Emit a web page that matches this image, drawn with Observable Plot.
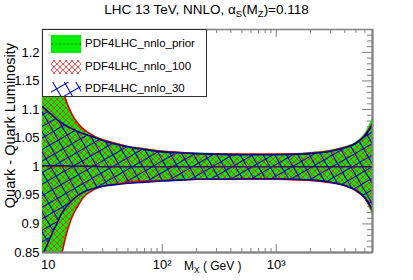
<!DOCTYPE html>
<html><head><meta charset="utf-8">
<script src="https://cdn.jsdelivr.net/npm/d3@7"></script>
<script src="https://cdn.jsdelivr.net/npm/@observablehq/plot@0.6"></script>
<style>
body{margin:0;background:#fff;}
#wrap{position:relative;width:413px;height:280px;font-family:"Liberation Sans",Arial,Helvetica,sans-serif;color:#000;overflow:hidden;}
#wrap svg.plot{position:absolute;left:0;top:0;}
.title{position:absolute;left:0;width:413px;top:2px;text-align:center;font-size:13.5px;white-space:nowrap;}
.xlab{position:absolute;left:184px;top:259px;font-size:12px;white-space:nowrap;}
.ylab{position:absolute;left:10px;top:43px;font-size:14.5px;line-height:1;white-space:nowrap;transform-origin:0 0;transform:rotate(-90deg) translate(-100%,-50%);}
sub{font-size:70%;vertical-align:-3px;line-height:0;}
.legend{position:absolute;left:42px;top:29px;width:165px;height:68px;border:1px solid #333;background:#fff;box-sizing:border-box;}
.row{position:absolute;left:0;height:20px;width:160px;}
.row svg{position:absolute;left:8px;top:1px;}
.row span{position:absolute;left:42px;top:3px;font-size:11.5px;white-space:nowrap;}
</style></head>
<body>
<div id="wrap"></div>
<script>
// ---- data ----
const mx = [8.9, 10, 11, 12, 13, 14, 16, 18, 20, 25, 30, 40, 50, 70, 100, 150, 200, 300, 500, 700, 1000, 1500, 2000, 3000, 4000, 5000, 6000, 7000];
const priorUp = [1.40, 1.31, 1.24, 1.185, 1.15, 1.125, 1.095, 1.079, 1.069, 1.055, 1.048, 1.041, 1.036, 1.032, 1.028, 1.025, 1.024, 1.023, 1.022, 1.022, 1.022, 1.023, 1.025, 1.029, 1.035, 1.043, 1.058, 1.085];
const priorLo = [0.55, 0.64, 0.71, 0.77, 0.835, 0.868, 0.908, 0.928, 0.943, 0.959, 0.965, 0.970, 0.973, 0.975, 0.976, 0.977, 0.978, 0.978, 0.978, 0.978, 0.978, 0.977, 0.976, 0.972, 0.966, 0.957, 0.943, 0.915];
const priorMid = [1.0, 1.0, 1.0, 1.0, 1.0, 1.0, 1.0, 1.0, 1.0, 1.0, 1.0, 1.0, 1.0, 1.0, 1.0, 1.0, 1.0, 1.0, 1.0, 1.0, 1.0, 1.0, 1.0, 1.0, 1.0, 1.0, 1.0, 1.0];
const mc100Up = [1.39, 1.30, 1.235, 1.18, 1.146, 1.122, 1.093, 1.077, 1.067, 1.054, 1.047, 1.040, 1.035, 1.031, 1.027, 1.025, 1.023, 1.022, 1.022, 1.022, 1.022, 1.022, 1.024, 1.028, 1.034, 1.041, 1.055, 1.076];
const mc100Lo = [0.56, 0.65, 0.72, 0.78, 0.84, 0.872, 0.91, 0.930, 0.945, 0.960, 0.966, 0.970, 0.973, 0.975, 0.976, 0.977, 0.978, 0.978, 0.978, 0.978, 0.978, 0.977, 0.976, 0.972, 0.967, 0.958, 0.945, 0.922];
const mc100Mid = [1.001, 1.001, 1.001, 1.001, 1.001, 1.001, 1.001, 1.001, 1.001, 1.0, 1.0, 1.0, 1.0, 1.0, 1.0, 1.0, 1.0, 1.0, 1.0, 1.0, 1.0, 1.0, 1.0, 1.0, 1.0, 1.0, 1.0, 1.0];
const mc30Up = [1.105, 1.096, 1.089, 1.082, 1.077, 1.073, 1.067, 1.062, 1.058, 1.052, 1.046, 1.039, 1.035, 1.030, 1.026, 1.024, 1.023, 1.022, 1.021, 1.021, 1.021, 1.022, 1.023, 1.027, 1.033, 1.041, 1.054, 1.073];
const mc30Lo = [0.845, 0.868, 0.887, 0.902, 0.917, 0.927, 0.940, 0.949, 0.955, 0.962, 0.966, 0.969, 0.971, 0.973, 0.975, 0.977, 0.978, 0.978, 0.979, 0.979, 0.979, 0.978, 0.977, 0.973, 0.967, 0.959, 0.946, 0.925];
const mc30Mid = [1.002, 1.002, 1.002, 1.002, 1.002, 1.002, 1.001, 1.001, 1.001, 1.001, 1.0, 1.0, 1.0, 1.0, 1.0, 1.0, 1.0, 1.0, 1.0, 1.0, 1.0, 1.0, 1.0, 1.0, 1.0, 1.0, 1.0, 1.0];

const xMajor = [10, 100, 1000];
const xMajorLabels = ["10", "10\u00b2", "10\u00b3"];
const xMinor = [20, 30, 40, 50, 60, 70, 80, 90, 200, 300, 400, 500, 600, 700, 800, 900, 2000, 3000, 4000, 5000, 6000];
const yMajor = [0.85, 0.9, 0.95, 1, 1.05, 1.1, 1.15, 1.2];
const yMajorLabels = ["0.85", "0.9", "0.95", "1", "1.05", "1.1", "1.15", "1.2"];
const yMinor = [0.86,0.87,0.88,0.89,0.91,0.92,0.93,0.94,0.96,0.97,0.98,0.99,1.01,1.02,1.03,1.04,1.06,1.07,1.08,1.09,1.11,1.12,1.13,1.14,1.16,1.17,1.18,1.19,1.21,1.22,1.23];

const titleHTML = "LHC 13 TeV, NNLO, \u03b1<sub>S</sub>(M<sub>Z</sub>)=0.118";
const xLabelHTML = "M<sub>X</sub> ( GeV )";
const yLabel = "Quark - Quark Luminosity";
const legendLabels = ["PDF4LHC_nnlo_prior", "PDF4LHC_nnlo_100", "PDF4LHC_nnlo_30"];

// ---- build tables ----
const rows = (up, lo, mid) => mx.map((m, i) => ({m, up: up[i], lo: lo[i], mid: mid[i]}));
const prior = rows(priorUp, priorLo, priorMid);
const r100 = rows(mc100Up, mc100Lo, mc100Mid);
const r30 = rows(mc30Up, mc30Lo, mc30Mid);

const W = 413, H = 280, mL = 42, mR = 41, mT = 29, mB = 28;
const fw = W - mL - mR, fh = H - mT - mB;
const curve = "monotone-x";
const axisCol = "#808080";

const chart = Plot.plot({
  width: W, height: H,
  marginLeft: mL, marginRight: mR, marginTop: mT, marginBottom: mB,
  style: {fontFamily: "Liberation Sans, Arial, sans-serif", background: "transparent", overflow: "visible"},
  x: {type: "log", domain: [8.9, 7000], axis: null},
  y: {domain: [0.85, 1.24], axis: null},
  marks: [
    Plot.tickX(xMajor, {x: d => d, stroke: axisCol, strokeWidth: 1, insetTop: fh - 8}),
    Plot.tickX(xMinor, {x: d => d, stroke: axisCol, strokeWidth: 1, insetTop: fh - 4}),
    Plot.tickX(xMajor, {x: d => d, stroke: axisCol, strokeWidth: 1, insetBottom: fh - 8}),
    Plot.tickX(xMinor, {x: d => d, stroke: axisCol, strokeWidth: 1, insetBottom: fh - 4}),
    Plot.tickY(yMajor, {y: d => d, stroke: axisCol, strokeWidth: 1, insetLeft: fw - 10}),
    Plot.tickY(yMinor, {y: d => d, stroke: axisCol, strokeWidth: 1, insetLeft: fw - 5}),
    Plot.frame({stroke: axisCol, strokeWidth: 1.5}),
    Plot.areaY(prior, {x: "m", y1: "lo", y2: "up", fill: "#00ee00", curve, clip: true}),
    Plot.areaY(r100, {x: "m", y1: "lo", y2: "up", fill: "url(#hatchRed)", curve, clip: true}),
    Plot.areaY(r30, {x: "m", y1: "lo", y2: "up", fill: "url(#hatchBlue)", curve, clip: true}),
    Plot.line(prior, {x: "m", y: "mid", stroke: "#007700", strokeWidth: 1.2, strokeDasharray: "2,2", curve, clip: true}),
    Plot.line(r100, {x: "m", y: "up", stroke: "#dd0000", strokeWidth: 1.6, curve, clip: true}),
    Plot.line(r100, {x: "m", y: "lo", stroke: "#dd0000", strokeWidth: 1.6, curve, clip: true}),
    Plot.line(r100, {x: "m", y: "mid", stroke: "#dd0000", strokeWidth: 1, curve, clip: true}),
    Plot.line(r30, {x: "m", y: "up", stroke: "#000099", strokeWidth: 1.6, curve, clip: true}),
    Plot.line(r30, {x: "m", y: "lo", stroke: "#000099", strokeWidth: 1.6, curve, clip: true}),
    Plot.line(r30, {x: "m", y: "mid", stroke: "#000099", strokeWidth: 1.2, curve, clip: true}),
    Plot.ruleY([0.85], {stroke: axisCol, strokeWidth: 2}),
    Plot.ruleX([7000], {stroke: axisCol, strokeWidth: 2}),
    Plot.text(xMajor, {x: d => d, text: (d, i) => xMajorLabels[i], frameAnchor: "bottom", dy: 16, fontSize: 13, fill: "#000"}),
    Plot.text(yMajor, {y: d => d, text: (d, i) => yMajorLabels[i], frameAnchor: "left", dx: -3, textAnchor: "end", fontSize: 13, fill: "#000"})
  ]
});
chart.classList.add("plot");

// hatch patterns
const defs = d3.select(chart).insert("defs", ":first-child");
const pr = defs.append("pattern").attr("id", "hatchRed").attr("patternUnits", "userSpaceOnUse")
  .attr("width", 6).attr("height", 6);
pr.append("path").attr("d", "M0,0L6,6M6,0L0,6M-1,5L1,7M5,-1L7,1").attr("stroke", "#ff2020").attr("stroke-width", 0.8).attr("fill", "none");
const pb = defs.append("pattern").attr("id", "hatchBlue").attr("patternUnits", "userSpaceOnUse")
  .attr("width", 10).attr("height", 10).attr("patternTransform", "rotate(-30)");
pb.append("path").attr("d", "M0,0.5H10M0.5,0V10").attr("stroke", "#0000cc").attr("stroke-width", 1.1).attr("fill", "none");

const wrap = document.getElementById("wrap");
wrap.appendChild(chart);

const t = document.createElement("div"); t.className = "title"; t.innerHTML = titleHTML; wrap.appendChild(t);
const xl = document.createElement("div"); xl.className = "xlab"; xl.innerHTML = xLabelHTML; wrap.appendChild(xl);
const yl = document.createElement("div"); yl.className = "ylab"; yl.textContent = yLabel; wrap.appendChild(yl);

// legend
const leg = document.createElement("div"); leg.className = "legend"; wrap.appendChild(leg);
const swatches = [
  '<svg width="30" height="18"><rect x="0" y="0" width="30" height="18" fill="#00ee00"/><line x1="0" y1="9" x2="30" y2="9" stroke="#007700" stroke-dasharray="2,2"/></svg>',
  '<svg width="30" height="18"><rect x="0" y="2" width="30" height="14" fill="url(#hatchRed)"/></svg>',
  '<svg width="30" height="18"><rect x="0" y="2" width="30" height="14" fill="url(#hatchBlue)"/></svg>'
];
legendLabels.forEach((lab, i) => {
  const r = document.createElement("div"); r.className = "row"; r.style.top = (4 + i * 22.5) + "px";
  r.innerHTML = swatches[i] + "<span>" + lab + "</span>";
  leg.appendChild(r);
});
</script>
</body></html>
